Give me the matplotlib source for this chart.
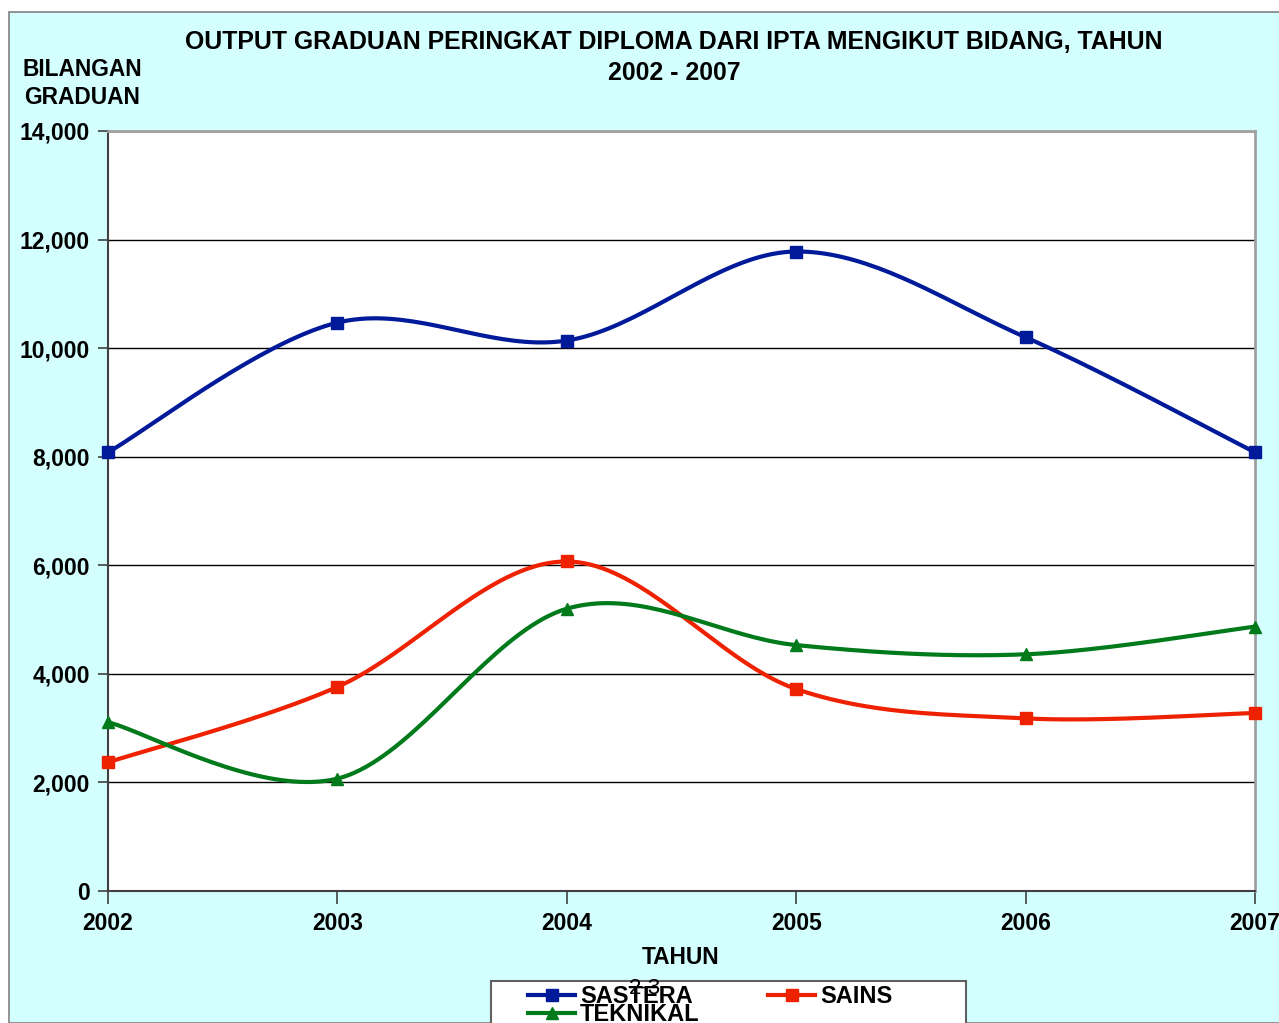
import numpy as np
import matplotlib
matplotlib.use("Agg")
import matplotlib.pyplot as plt
from matplotlib.patches import Rectangle
from matplotlib.lines import Line2D

years = [2002, 2003, 2004, 2005, 2006, 2007]
sastera = [8080, 10470, 10140, 11780, 10200, 8080]
sains = [2370, 3760, 6070, 3720, 3180, 3280]
teknikal = [3110, 2070, 5200, 4530, 4360, 4870]
series_names = ["SASTERA", "SAINS", "TEKNIKAL"]
colors = {"SASTERA": "#001A99", "SAINS": "#EE2200", "TEKNIKAL": "#007A1A"}
markers = {"SASTERA": "s", "SAINS": "s", "TEKNIKAL": "^"}
yticks = [0, 2000, 4000, 6000, 8000, 10000, 12000, 14000]

FONT = ["Liberation Sans", "DejaVu Sans"]
plt.rcParams["font.family"] = FONT

W, H = 1279, 1023
fig = plt.figure(figsize=(W / 100, H / 100), dpi=100)
fig.patch.set_facecolor("white")
bg = Rectangle((9 / W, 0), 1.0, 1 - 12 / H, transform=fig.transFigure,
               facecolor="#D4FFFF", edgecolor="#808080", linewidth=1.2, zorder=-10)
fig.patches.append(bg)

ax = fig.add_axes([108 / W, 1 - 891 / H, (1255 - 108) / W, (891 - 131) / H])
ax.set_facecolor("white")


def smooth(xs, ys, n=40):
    xs = np.asarray(xs, float)
    ys = np.asarray(ys, float)
    px, py = [], []
    m = len(xs)
    for i in range(m - 1):
        x0, y0 = xs[max(i - 1, 0)], ys[max(i - 1, 0)]
        x1, y1 = xs[i], ys[i]
        x2, y2 = xs[i + 1], ys[i + 1]
        x3, y3 = xs[min(i + 2, m - 1)], ys[min(i + 2, m - 1)]
        c1x, c1y = x1 + (x2 - x0) / 6, y1 + (y2 - y0) / 6
        c2x, c2y = x2 - (x3 - x1) / 6, y2 - (y3 - y1) / 6
        t = np.linspace(0, 1, n)
        bx = (1 - t) ** 3 * x1 + 3 * (1 - t) ** 2 * t * c1x + 3 * (1 - t) * t ** 2 * c2x + t ** 3 * x2
        by = (1 - t) ** 3 * y1 + 3 * (1 - t) ** 2 * t * c1y + 3 * (1 - t) * t ** 2 * c2y + t ** 3 * y2
        px.extend(bx)
        py.extend(by)
    return px, py


data = {"SASTERA": sastera, "SAINS": sains, "TEKNIKAL": teknikal}
handles = {}
for name in series_names:
    c = colors[name]
    sx, sy = smooth(years, data[name])
    ax.plot(sx, sy, color=c, linewidth=3, zorder=3, clip_on=False)
    ax.plot(years, data[name], linestyle="none", marker=markers[name], markersize=9,
            color=c, zorder=4, clip_on=False)
    handles[name] = Line2D([], [], color=c, linewidth=3, marker=markers[name], markersize=9)

ax.set_xlim(2002, 2007)
ax.set_ylim(0, 14000)
ax.set_xticks(years)
ax.set_xticklabels([str(y) for y in years])
ax.set_yticks(yticks)
ax.set_yticklabels([f"{v:,}" for v in yticks])
ax.grid(axis="y", color="black", linewidth=1)
ax.set_axisbelow(True)
for lab in ax.get_xticklabels() + ax.get_yticklabels():
    lab.set_fontweight("bold")
    lab.set_fontsize(16.5)
ax.tick_params(axis="x", direction="out", length=9, width=1.2, color="#404040", pad=6)
ax.tick_params(axis="y", direction="out", length=7, width=1.2, color="#404040", pad=6)
for s in ["left", "bottom"]:
    ax.spines[s].set_color("#404040")
    ax.spines[s].set_linewidth(1.5)
for s in ["right", "top"]:
    ax.spines[s].set_color("#A0A0A0")
    ax.spines[s].set_linewidth(2)

fig.text(674 / W, 1 - 42 / H, "OUTPUT GRADUAN PERINGKAT DIPLOMA DARI IPTA MENGIKUT BIDANG, TAHUN",
         ha="center", va="center", fontsize=17.9, fontweight="bold")
fig.text(674 / W, 1 - 73 / H, "2002 - 2007", ha="center", va="center", fontsize=17.9, fontweight="bold")
fig.text(82 / W, 1 - 70 / H, "BILANGAN", ha="center", va="center", fontsize=16.4, fontweight="bold")
fig.text(82 / W, 1 - 97 / H, "GRADUAN", ha="center", va="center", fontsize=16.4, fontweight="bold")
fig.text(681 / W, 1 - 958 / H, "TAHUN", ha="center", va="center", fontsize=16.4, fontweight="bold")

legbox = Rectangle((491 / W, -0.05), (966 - 491) / W, 0.05 + (1 - 981 / H),
                   transform=fig.transFigure, facecolor="white", edgecolor="#606060",
                   linewidth=1.5, zorder=5)
fig.patches.append(legbox)

leg = fig.legend([handles["SASTERA"], handles["TEKNIKAL"], handles["SAINS"]],
                 ["SASTERA", "TEKNIKAL", "SAINS"], ncol=2,
                 loc="upper left", bbox_to_anchor=(528 / W, 1 - 985 / H),
                 frameon=False, prop={"weight": "bold", "size": 17, "family": FONT},
                 borderpad=0, labelspacing=-0.2, handlelength=2.0, handletextpad=0.2,
                 columnspacing=2.9, borderaxespad=0)
leg.set_zorder(6)

fig.text(645 / W, 1 - 989 / H, "2-3", ha="center", va="center", fontsize=16, zorder=10)

fig.savefig("out.png", dpi=100, facecolor=fig.get_facecolor())
